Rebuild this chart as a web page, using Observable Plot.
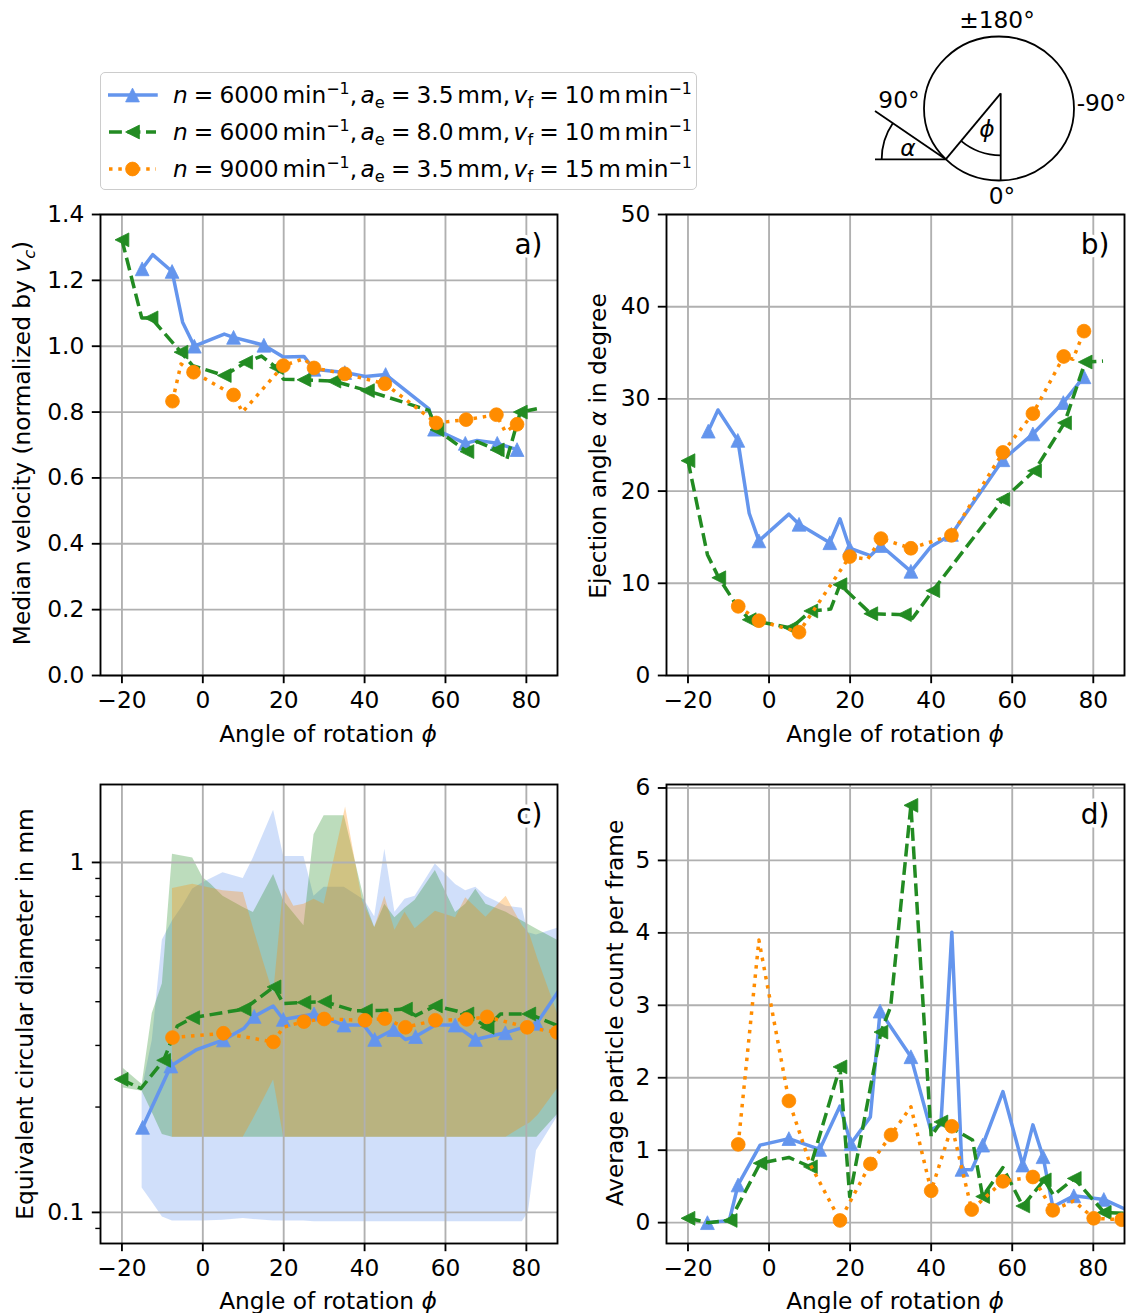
<!DOCTYPE html>
<html><head><meta charset="utf-8">
<script src="https://cdn.jsdelivr.net/npm/d3@7"></script>
<script src="https://cdn.jsdelivr.net/npm/@observablehq/plot@0.6"></script>
<style>
body{margin:0;background:#fff;}
#root{position:relative;width:1126px;height:1313px;font-family:"DejaVu Sans";color:#000;overflow:hidden}
.lbl{position:absolute;white-space:nowrap;font-size:23.3px;line-height:1;transform:translate(-50%,-50%)}
.ylbl{transform:translate(-50%,-50%) rotate(-90deg)}
sup{font-size:0.68em;vertical-align:0.55em;line-height:0}
sub{font-size:0.7em;vertical-align:-0.3em;line-height:0}
.leg{position:absolute;left:100px;top:72px;width:597px;height:118px;box-sizing:border-box;border:1.7px solid #cccccc;border-radius:5px;background:rgba(255,255,255,0.8)}
.row{position:absolute;left:0;height:36px;width:100%}
.row svg{position:absolute;left:7px;top:0}
.row .t{position:absolute;left:72px;top:0;height:36px;line-height:36px;font-size:23.3px;white-space:nowrap}
.eq{margin:0 0.26em}
.cm{margin-right:0.15em}
.th{margin-left:0.16em}
</style></head>
<body><div id="root"></div>
<script>
// ---------- ticks ----------
const xTicks = [-20, 0, 20, 40, 60, 80];
const aYTicks = [0, 0.2, 0.4, 0.6, 0.8, 1.0, 1.2, 1.4];
const bYTicks = [0, 10, 20, 30, 40, 50];
const cYTicks = [0.1, 1];
const cYMinor = [0.09, 0.2, 0.3, 0.4, 0.5, 0.6, 0.7, 0.8, 0.9];
const dYTicks = [0, 1, 2, 3, 4, 5, 6];

// ---------- legend labels ----------
const legN  = ["6000", "6000", "9000"];
const legAe = ["3.5", "8.0", "3.5"];
const legVf = ["10", "10", "15"];

// ---------- panel a: median velocity ----------
const aBlueX = [-15, -12.4, -7.6, -5, -2.1, 5.3, 7.6, 15.1, 19.9, 25, 27.5, 35.1, 40.2, 45.2, 55.9, 57.3, 64.9, 67.8, 72.8, 77.7];
const aBlueY = [1.235, 1.278, 1.227, 1.073, 1.0, 1.037, 1.027, 1.003, 0.967, 0.969, 0.93, 0.92, 0.908, 0.914, 0.81, 0.748, 0.705, 0.714, 0.705, 0.686];
const aBlueM = [0, 2, 4, 6, 7, 10, 11, 13, 15, 16, 18, 19];
const aGreenX = [-20, -15.1, -12.8, -5.4, -2.5, 5.3, 10.6, 14.5, 18.2, 19.9, 25, 32.4, 40.7, 55.9, 57.9, 65.3, 67.8, 72.8, 75.2, 78.5, 82.6];
const aGreenY = [1.323, 1.086, 1.086, 0.982, 0.941, 0.911, 0.951, 0.97, 0.935, 0.9, 0.898, 0.894, 0.865, 0.805, 0.746, 0.68, 0.71, 0.685, 0.658, 0.80, 0.81];
const aGreenM = [0, 2, 3, 5, 6, 8, 10, 11, 12, 14, 15, 17, 19];
const aOrangeX = [-7.5, -5.4, -2.3, 7.6, 9.8, 19.9, 25, 27.5, 35.1, 45, 48.9, 57.7, 65.1, 72.6, 74.8, 77.7];
const aOrangeY = [0.833, 0.946, 0.921, 0.852, 0.8, 0.941, 0.962, 0.934, 0.916, 0.886, 0.85, 0.767, 0.777, 0.792, 0.74, 0.763];
const aOrangeM = [0, 2, 3, 5, 7, 8, 9, 11, 12, 13, 15];

// ---------- panel b: ejection angle ----------
const bBlueX = [-15, -12.6, -7.7, -4.9, -2.5, 4.9, 7.4, 15, 17.5, 19.9, 25, 27.6, 35, 40, 45, 57.7, 65.1, 72.6, 77.7];
const bBlueY = [26.5, 28.8, 25.5, 17.6, 14.6, 17.5, 16.4, 14.4, 17.0, 13.8, 13.0, 14.1, 11.3, 14.0, 15.3, 23.4, 26.2, 29.6, 32.4];
const bBlueM = [0, 2, 4, 6, 7, 9, 11, 12, 14, 15, 16, 17, 18];
const bGreenX = [-20, -15.2, -12.4, -8.6, -4.9, 5.4, 10.3, 15.2, 17.5, 25.1, 33.4, 35.4, 40.4, 57.7, 65.5, 72.9, 78, 82.4];
const bGreenY = [23.3, 13.1, 10.6, 8.0, 6.05, 5.15, 7.0, 7.2, 9.85, 6.7, 6.6, 6.2, 9.2, 19.1, 22.2, 27.4, 34.0, 34.1];
const bGreenM = [0, 2, 4, 5, 6, 8, 9, 10, 12, 13, 14, 15, 16];
const bOrangeX = [-7.6, -2.5, 7.4, 19.9, 24.3, 27.6, 35, 45, 57.7, 65.1, 72.7, 75, 77.7];
const bOrangeY = [7.5, 5.94, 4.7, 12.9, 12.6, 14.85, 13.8, 15.2, 24.2, 28.4, 34.6, 34.3, 37.35];
const bOrangeM = [0, 1, 2, 3, 5, 6, 7, 8, 9, 10, 12];

// ---------- panel c: equivalent diameter (log) ----------
const cBlueX = [-14.9, -7.9, -1.5, 5.1, 10.2, 12.7, 17.4, 19.9, 27.5, 34.9, 39.8, 42.5, 47.2, 50.1, 52.6, 57.5, 62.4, 67.4, 74.8, 82.6, 88];
const cBlueY = [0.175, 0.262, 0.292, 0.311, 0.336, 0.363, 0.389, 0.356, 0.369, 0.343, 0.343, 0.312, 0.333, 0.312, 0.318, 0.343, 0.343, 0.312, 0.326, 0.347, 0.43];
const cBlueM = [0, 1, 3, 5, 7, 8, 9, 11, 12, 14, 16, 17, 18, 19];
const cGreenX = [-20.2, -15.3, -9.7, -6.3, -2.5, 10.2, 17.6, 19.9, 25, 30.1, 37.4, 40.2, 45.2, 50.1, 52.6, 57.5, 62.5, 65.3, 70.3, 73.6, 80.6, 88];
const cGreenY = [0.24, 0.226, 0.272, 0.341, 0.36, 0.381, 0.441, 0.395, 0.398, 0.40, 0.377, 0.377, 0.378, 0.381, 0.365, 0.389, 0.377, 0.369, 0.338, 0.369, 0.369, 0.341];
const cGreenM = [0, 2, 4, 5, 6, 8, 9, 11, 13, 15, 17, 18, 20];
const cOrangeX = [-7.5, 5.1, 17.45, 19.9, 25, 30, 40.1, 45, 50.1, 57.5, 65.2, 70.3, 80.2, 87.6];
const cOrangeY = [0.316, 0.325, 0.307, 0.338, 0.351, 0.357, 0.354, 0.358, 0.338, 0.354, 0.356, 0.362, 0.338, 0.327];
const cOrangeM = [0, 1, 2, 4, 5, 6, 7, 8, 9, 10, 11, 12, 13];
// spread bands (lower / upper)
const cBandBlueX  = [-15, -12.5, -10, -7.5, -5, -2.5, 0, 5, 10, 12.5, 17.5, 20, 25, 27.5, 30, 35, 40, 42.5, 45, 47.5, 50, 52.5, 57.5, 62.5, 65, 67.5, 70, 75, 79, 80.5, 82.5, 88];
const cBandBlueLo = [0.1175, 0.107, 0.097, 0.0945, 0.0945, 0.0945, 0.0945, 0.095, 0.096, 0.0955, 0.0945, 0.0945, 0.0945, 0.094, 0.094, 0.094, 0.094, 0.094, 0.094, 0.094, 0.094, 0.094, 0.094, 0.094, 0.094, 0.094, 0.094, 0.094, 0.094, 0.1, 0.15, 0.19];
const cBandBlueHi = [0.225, 0.31, 0.6, 0.68, 0.75, 0.84, 0.875, 0.935, 0.9, 1.03, 1.41, 1.04, 1.04, 0.80, 0.85, 0.85, 0.78, 0.70, 1.09, 0.72, 0.785, 0.80, 0.99, 0.865, 0.83, 0.85, 0.80, 0.75, 0.74, 0.63, 0.62, 0.65];
const cBandGreenX  = [-20, -15, -12.5, -10, -7.5, -2.5, 0, 2, 5, 10, 12.5, 17.5, 20, 25, 27.5, 30, 35, 40, 42.5, 45, 47.5, 50, 52.5, 57.5, 62.5, 65, 67.5, 70, 75, 79, 82.6, 88];
const cBandGreenLo = [0.227, 0.222, 0.193, 0.167, 0.164, 0.164, 0.164, 0.164, 0.164, 0.164, 0.164, 0.164, 0.164, 0.164, 0.164, 0.164, 0.164, 0.164, 0.164, 0.164, 0.164, 0.164, 0.164, 0.164, 0.164, 0.164, 0.164, 0.164, 0.164, 0.164, 0.164, 0.192];
const cBandGreenHi = [0.26, 0.232, 0.37, 0.45, 1.056, 1.03, 0.906, 0.866, 0.80, 0.743, 0.719, 0.924, 0.776, 0.659, 1.2, 1.36, 1.36, 0.78, 0.652, 0.76, 0.695, 0.74, 0.78, 0.948, 0.719, 0.76, 0.838, 0.759, 0.72, 0.68, 0.644, 0.597];
const cBandOrangeX  = [-7.5, -2.5, 5, 10, 12.5, 15, 17.5, 20, 22.5, 25, 27.5, 30, 35.3, 39.5, 42.5, 45, 47.5, 50, 52.5, 57.5, 62.5, 65, 70, 75, 79, 80.9, 83, 88];
const cBandOrangeLo = [0.164, 0.164, 0.164, 0.164, 0.185, 0.21, 0.239, 0.164, 0.164, 0.164, 0.164, 0.164, 0.164, 0.164, 0.164, 0.164, 0.164, 0.164, 0.164, 0.164, 0.164, 0.164, 0.164, 0.164, 0.175, 0.18, 0.19, 0.228];
const cBandOrangeHi = [0.843, 0.866, 0.83, 0.82, 0.65, 0.52, 0.42, 0.848, 0.75, 0.76, 0.785, 0.76, 1.44, 0.776, 0.651, 0.80, 0.64, 0.72, 0.646, 0.725, 0.695, 0.793, 0.697, 0.80, 0.66, 0.62, 0.524, 0.362];

// ---------- panel d: particle count ----------
const dBlueX = [-15.2, -9.8, -7.65, -2.2, 4.9, 12.5, 17.5, 20.2, 25, 27.4, 35, 39.9, 42.4, 45.1, 47.6, 50, 52.7, 57.7, 62.6, 65.1, 67.6, 70, 75.2, 82.6, 87.7];
const dBlueY = [0, 0.03, 0.52, 1.07, 1.16, 1.01, 1.61, 1.09, 1.46, 2.92, 2.29, 1.28, 1.35, 4.01, 0.735, 0.73, 1.07, 1.81, 0.795, 1.35, 0.91, 0.22, 0.37, 0.32, 0.19];
const dBlueM = [0, 2, 4, 5, 7, 9, 10, 14, 16, 18, 20, 22, 23];
const dGreenX = [-20, -15, -9.6, -2.2, 4.9, 10.2, 17.5, 19.9, 27.6, 30, 35, 40, 42.4, 50.2, 52.7, 57.7, 62.6, 67.9, 70.2, 75.3, 82.7, 87.7];
const dGreenY = [0.06, 0.0, 0.03, 0.82, 0.9, 0.77, 2.15, 0.36, 2.63, 2.98, 5.76, 1.19, 1.39, 1.14, 0.36, 0.76, 0.23, 0.59, 0.38, 0.61, 0.14, 0.13];
const dGreenM = [0, 2, 3, 5, 6, 8, 10, 12, 14, 16, 17, 19, 20];
const dOrangeX = [-7.6, -2.5, 4.9, 10.2, 17.5, 25, 30.1, 35, 40, 45.1, 50, 57.7, 65.1, 70, 75.2, 80.1, 87];
const dOrangeY = [1.08, 3.9, 1.68, 0.8, 0.03, 0.81, 1.21, 1.6, 0.44, 1.33, 0.18, 0.57, 0.63, 0.17, 0.3, 0.06, 0.04];
const dOrangeM = [0, 2, 4, 5, 6, 8, 9, 10, 11, 12, 13, 15, 16];

// ---------- helpers ----------
const pts = (xs, ys) => xs.map((x, i) => ({x, y: ys[i]}));
const sub = (xs, ys, idx) => idx.map(i => ({x: xs[i], y: ys[i]}));
const band = (xs, lo, hi) => xs.map((x, i) => ({x, lo: lo[i], hi: hi[i]}));

const triUp = {draw(ctx, size) {const h = Math.sqrt(size / Math.PI); ctx.moveTo(0, -h); ctx.lineTo(h, h); ctx.lineTo(-h, h); ctx.closePath();}};
const triLeft = {draw(ctx, size) {const h = Math.sqrt(size / Math.PI); ctx.moveTo(-h, 0); ctx.lineTo(h, -h); ctx.lineTo(h, h); ctx.closePath();}};

const ST = {
  blue:   {color: "#6495ED", dash: null, cap: "square", symbol: triUp},
  green:  {color: "#228B22", dash: "12.9,5.6", cap: "butt", symbol: triLeft},
  orange: {color: "#FF8C00", dash: "3.5,5.8", cap: "butt", symbol: "circle"}
};
const MR = 6.9, LW = 3.5, GRID = "#b0b0b0", SW = 1.87, FS = 23.3;
const xDomain = [-25.3, 87.7];

function makePanel(o) {
  const marks = [];
  for (const b of (o.bands || [])) marks.push(Plot.areaY(b.data, {x: "x", y1: "lo", y2: "hi", fill: b.color, fillOpacity: 0.3, clip: true}));
  marks.push(Plot.gridX({ticks: xTicks, stroke: GRID, strokeOpacity: 1, strokeWidth: SW}));
  marks.push(Plot.gridY({ticks: o.yTicks, stroke: GRID, strokeOpacity: 1, strokeWidth: SW}));
  for (const s of o.series) {
    marks.push(Plot.line(s.line, {x: "x", y: "y", stroke: s.st.color, strokeWidth: LW, strokeDasharray: s.st.dash, strokeLinecap: s.st.cap, strokeLinejoin: "round", clip: true}));
    marks.push(Plot.dot(s.mk, {x: "x", y: "y", symbol: s.st.symbol, r: MR, fill: s.st.color, stroke: s.st.color, strokeWidth: 0.8, clip: true}));
  }
  marks.push(Plot.frame({stroke: "black", strokeWidth: SW}));
  marks.push(Plot.axisX({ticks: xTicks, tickSize: 8.2, tickPadding: 8, tickFormat: d3.format("d"), label: null, strokeWidth: SW}));
  marks.push(Plot.axisY({ticks: o.yTicks, tickSize: 8.2, tickPadding: 8, tickFormat: o.yFmt, label: null, strokeWidth: SW}));
  if (o.minor) marks.push(Plot.axisY({ticks: o.minor, tickSize: 4.7, tickPadding: 2, tickFormat: () => "", label: null, strokeWidth: 1.4}));
  marks.push(Plot.text([o.tag], {text: d => d, frameAnchor: "top-right", dx: -15, dy: 31, textAnchor: "end", lineAnchor: "middle", fontSize: 28, fill: "black", stroke: "white", strokeWidth: 7, paintOrder: "stroke"}));
  const svg = Plot.plot({
    width: o.width, height: o.height,
    marginLeft: 100, marginRight: o.mr, marginTop: 24, marginBottom: 55,
    style: {fontFamily: "DejaVu Sans", fontSize: FS + "px", background: "transparent", overflow: "visible", color: "black"},
    x: {domain: xDomain},
    y: {type: o.yType || "linear", domain: o.yDomain},
    marks
  });
  svg.style.position = "absolute";
  svg.style.left = o.left + "px";
  svg.style.top = o.top + "px";
  return svg;
}

const root = document.getElementById("root");

const trio = (bx, by, bm, gx, gy, gm, ox, oy, om) => [
  {line: pts(bx, by), mk: sub(bx, by, bm), st: ST.blue},
  {line: pts(gx, gy), mk: sub(gx, gy, gm), st: ST.green},
  {line: pts(ox, oy), mk: sub(ox, oy, om), st: ST.orange}
];

root.appendChild(makePanel({left: 0, top: 190, width: 563, height: 540, mr: 6, tag: "a)",
  yDomain: [0, 1.4], yTicks: aYTicks, yFmt: d3.format(".1f"),
  series: trio(aBlueX, aBlueY, aBlueM, aGreenX, aGreenY, aGreenM, aOrangeX, aOrangeY, aOrangeM)}));
root.appendChild(makePanel({left: 566, top: 190, width: 560, height: 540, mr: 2, tag: "b)",
  yDomain: [0, 50], yTicks: bYTicks, yFmt: d3.format("d"),
  series: trio(bBlueX, bBlueY, bBlueM, bGreenX, bGreenY, bGreenM, bOrangeX, bOrangeY, bOrangeM)}));
root.appendChild(makePanel({left: 0, top: 760, width: 563, height: 538, mr: 6, tag: "c)",
  yType: "log", yDomain: [0.0815, 1.67], yTicks: cYTicks, minor: cYMinor, yFmt: d => (d === 1 ? "1" : String(d)),
  bands: [
    {data: band(cBandBlueX, cBandBlueLo, cBandBlueHi), color: ST.blue.color},
    {data: band(cBandGreenX, cBandGreenLo, cBandGreenHi), color: ST.green.color},
    {data: band(cBandOrangeX, cBandOrangeLo, cBandOrangeHi), color: ST.orange.color}
  ],
  series: trio(cBlueX, cBlueY, cBlueM, cGreenX, cGreenY, cGreenM, cOrangeX, cOrangeY, cOrangeM)}));
root.appendChild(makePanel({left: 566, top: 760, width: 560, height: 538, mr: 2, tag: "d)",
  yDomain: [-0.288, 6.048], yTicks: dYTicks, yFmt: d3.format("d"),
  series: trio(dBlueX, dBlueY, dBlueM, dGreenX, dGreenY, dGreenM, dOrangeX, dOrangeY, dOrangeM)}));

// ---------- axis labels ----------
const phiLabel = 'Angle of rotation <i>ϕ</i>';
const labels = [
  {x: 328, y: 734, html: phiLabel},
  {x: 895, y: 734, html: phiLabel},
  {x: 328, y: 1301, html: phiLabel},
  {x: 895, y: 1301, html: phiLabel},
  {x: 22, y: 443, html: 'Median velocity (normalized by <i>v</i><sub><i>c</i></sub>)', rot: true},
  {x: 598, y: 446, html: 'Ejection angle <i>α</i> in degree', rot: true},
  {x: 25, y: 1014, html: 'Equivalent circular diameter in mm', rot: true},
  {x: 615, y: 1013, html: 'Average particle count per frame', rot: true}
];
for (const l of labels) {
  const d = document.createElement("div");
  d.className = "lbl" + (l.rot ? " ylbl" : "");
  d.style.left = l.x + "px"; d.style.top = l.y + "px";
  d.innerHTML = l.html;
  root.appendChild(d);
}

// ---------- legend ----------
const leg = document.createElement("div");
leg.className = "leg";
root.appendChild(leg);
const legStyles = [ST.blue, ST.green, ST.orange];
const rowCenters = [22, 59, 96];
const EQ = '<span class="eq">=</span>', TH = '<span class="th"></span>', CM = '<span class="cm">,</span>';
legStyles.forEach((st, i) => {
  const row = document.createElement("div");
  row.className = "row";
  row.style.top = (rowCenters[i] - 18) + "px";
  const svg = d3.create("svg").attr("width", 50).attr("height", 36);
  svg.append("line").attr("x1", 1).attr("x2", 48).attr("y1", 18).attr("y2", 18)
    .attr("stroke", st.color).attr("stroke-width", LW)
    .attr("stroke-dasharray", st.dash).attr("stroke-linecap", st.cap);
  if (st.symbol === "circle") {
    svg.append("circle").attr("cx", 24.5).attr("cy", 18).attr("r", MR).attr("fill", st.color).attr("stroke", st.color).attr("stroke-width", 0.8);
  } else {
    const p = d3.path(); st.symbol.draw(p, MR * MR * Math.PI);
    svg.append("path").attr("transform", "translate(24.5,18)").attr("d", p.toString()).attr("fill", st.color).attr("stroke", st.color).attr("stroke-width", 0.8);
  }
  row.appendChild(svg.node());
  const t = document.createElement("div");
  t.className = "t";
  t.innerHTML = `<i>n</i>${EQ}${legN[i]}${TH}min<sup>−1</sup>${CM}<i>a</i><sub>e</sub>${EQ}${legAe[i]}${TH}mm${CM}<i>v</i><sub>f</sub>${EQ}${legVf[i]}${TH}m${TH}min<sup>−1</sup>`;
  row.appendChild(t);
  leg.appendChild(row);
});

// ---------- angle sketch ----------
const sketch = document.createElement("div");
sketch.innerHTML = `<svg width="266" height="210" viewBox="860 0 266 210" style="position:absolute;left:860px;top:0" font-family="DejaVu Sans" font-size="23.3">
<g fill="none" stroke="black" stroke-width="1.8">
<ellipse cx="999" cy="108.5" rx="75" ry="72"/>
<path d="M1000.7,93.3 L1000.7,180.5"/>
<path d="M1000.7,93.3 L945.7,159.3"/>
<path d="M1000.7,155.3 A62,62 0 0,1 961,140.9"/>
<path d="M875,111 L945.7,159.3"/>
<path d="M875,159.3 L945.7,159.3"/>
<path d="M881.7,159.3 A64,64 0 0,1 892.8,123.2"/>
</g>
<g text-anchor="middle" dominant-baseline="central" fill="black">
<text x="997" y="19">±180°</text>
<text x="899" y="99">90°</text>
<text x="1101.5" y="102">-90°</text>
<text x="1002" y="195">0°</text>
<text x="987" y="128" font-style="italic">ϕ</text>
<text x="908" y="147" font-style="italic">α</text>
</g></svg>`;
root.appendChild(sketch.firstElementChild);
</script></body></html>
